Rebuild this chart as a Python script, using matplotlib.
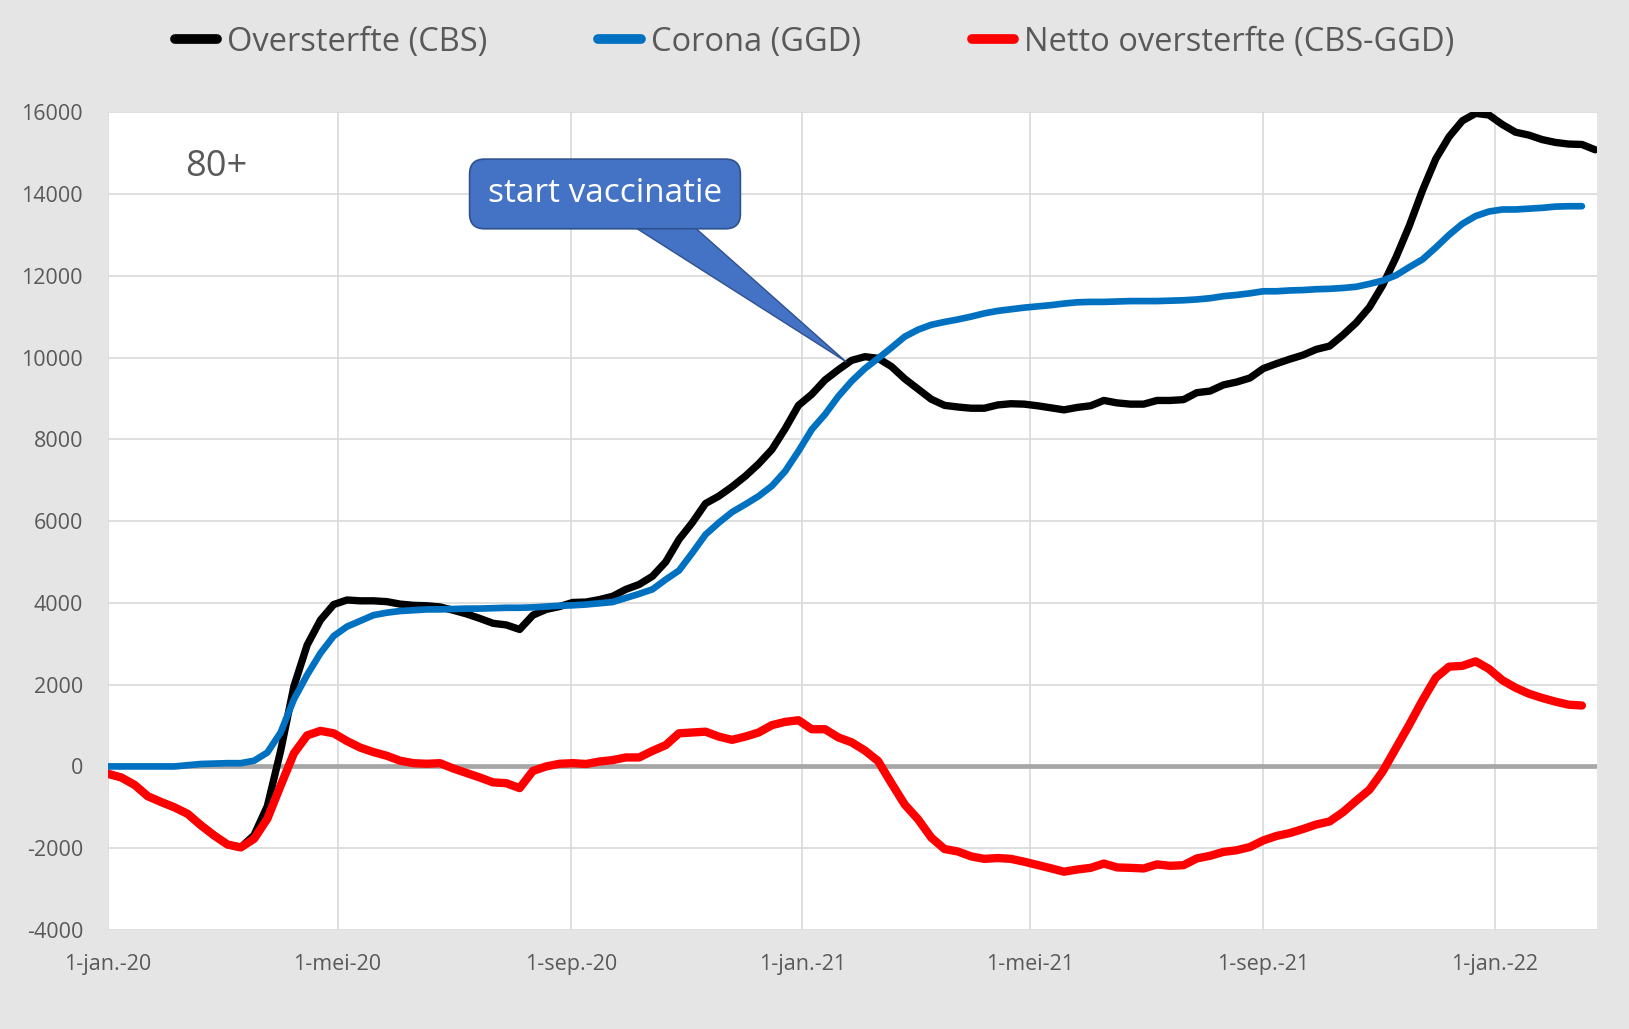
import numpy as np
import matplotlib
matplotlib.use('Agg')
import matplotlib.pyplot as plt

plt.rcParams['font.family'] = ['Open Sans', 'DejaVu Sans']

# weekly cumulative values, starting 1-jan-2020
oversterfte = [-180, -270, -450, -730, -870, -1000, -1160, -1440, -1690, -1910,
               -1980, -1680, -970, 380, 1960, 2970, 3580, 3960, 4070, 4050,
               4050, 4030, 3970, 3940, 3930, 3900, 3820, 3730, 3620, 3500,
               3460, 3350, 3700, 3840, 3910, 4010, 4020, 4080, 4160, 4330,
               4450, 4650, 5000, 5550, 5960, 6430, 6610, 6840, 7100, 7400,
               7750, 8260, 8830, 9100, 9450, 9700, 9930, 10020, 9980, 9780,
               9480, 9230, 8980, 8830, 8790, 8760, 8760, 8840, 8870, 8860,
               8820, 8770, 8720, 8780, 8820, 8950, 8890, 8860, 8860, 8950,
               8950, 8970, 9140, 9180, 9330, 9400, 9500, 9730, 9850, 9960,
               10060, 10200, 10280, 10550, 10850, 11230, 11770, 12450, 13220, 14090,
               14860, 15400, 15790, 15970, 15930, 15700, 15510, 15440, 15330, 15260,
               15220, 15210, 15080]

corona = [0, 0, 0, 0, 0, 0, 30, 60, 70, 80,
          80, 140, 340, 830, 1640, 2240, 2770, 3190, 3420, 3560,
          3700, 3760, 3800, 3820, 3840, 3840, 3850, 3860, 3860, 3870,
          3880, 3880, 3890, 3910, 3930, 3940, 3960, 3990, 4020, 4120,
          4220, 4330, 4570, 4790, 5220, 5670, 5960, 6220, 6410, 6610,
          6860, 7220, 7710, 8240, 8610, 9050, 9420, 9730, 9980, 10240,
          10510, 10680, 10800, 10870, 10930, 11000, 11080, 11140, 11180, 11220,
          11250, 11280, 11320, 11350, 11360, 11360, 11370, 11380, 11380, 11380,
          11390, 11400, 11420, 11450, 11500, 11530, 11570, 11620, 11620, 11640,
          11650, 11670, 11680, 11700, 11730, 11800, 11880, 12010, 12210, 12400,
          12690, 13000, 13270, 13460, 13570, 13620, 13620, 13640, 13660, 13690,
          13700, 13700]

netto = [-180, -270, -450, -730, -870, -1000, -1160, -1440, -1690, -1910,
         -1980, -1770, -1280, -470, 320, 760, 870, 810, 620, 460,
         350, 260, 140, 80, 65, 80, -50, -160, -270, -390,
         -410, -530, -110, 0, 65, 80, 60, 120, 155, 220,
         220, 380, 520, 810, 830, 850, 730, 650, 730, 830,
         1010, 1090, 1130, 910, 910, 710, 590, 390, 130, -410,
         -930, -1290, -1740, -2020, -2080, -2200, -2260, -2240, -2260, -2330,
         -2410, -2490, -2575, -2520, -2480, -2375, -2470, -2480, -2495, -2395,
         -2430, -2415, -2250, -2185, -2090, -2050, -1970, -1810, -1700, -1630,
         -1530, -1420, -1345, -1120, -840, -570, -120, 450, 1020, 1620,
         2170, 2440, 2460, 2570, 2385, 2110, 1925, 1780, 1675, 1585,
         1510, 1490]

labels = ['Oversterfte (CBS)', 'Corona (GGD)', 'Netto oversterfte (CBS-GGD)']
xtick_dates = ['2020-01-01', '2020-05-01', '2020-09-01', '2021-01-01',
               '2021-05-01', '2021-09-01', '2022-01-01']
xtick_labels = ['1-jan.-20', '1-mei-20', '1-sep.-20', '1-jan.-21',
                '1-mei-21', '1-sep.-21', '1-jan.-22']
yticks = [-4000, -2000, 0, 2000, 4000, 6000, 8000, 10000, 12000, 14000, 16000]

start = np.datetime64('2020-01-01')
def weeks(n):
    return start + np.arange(n) * np.timedelta64(7, 'D')

grijs = '#595959'
fig = plt.figure(figsize=(16.29, 10.29), dpi=100, facecolor='#e5e5e5')
ax = fig.add_axes([0.0663, 0.0962, 0.9141, 0.7948])
ax.set_facecolor('white')

ax.axhline(0, color='#a6a6a6', lw=3.4, zorder=2)
ax.plot(weeks(len(oversterfte)), oversterfte, color='black', lw=5.3,
        solid_capstyle='round', solid_joinstyle='round', label=labels[0], zorder=3)
ax.plot(weeks(len(corona)), corona, color='#0070C0', lw=4.8,
        solid_capstyle='round', solid_joinstyle='round', label=labels[1], zorder=4)
ax.plot(weeks(len(netto)), netto, color='#FF0000', lw=6.0,
        solid_capstyle='round', solid_joinstyle='round', label=labels[2], zorder=5)

ax.set_xlim(start, start + np.timedelta64(785, 'D'))
ax.set_ylim(-4000, 16000)
ax.set_xticks([np.datetime64(d) for d in xtick_dates])
ax.set_xticklabels(xtick_labels)
ax.set_yticks(yticks)
ax.set_yticklabels([str(v) for v in yticks])
ax.tick_params(axis='both', length=0, labelsize=15.5, colors=grijs)
ax.tick_params(axis='x', pad=17)
ax.tick_params(axis='y', pad=18)
ax.grid(True, color='#d9d9d9', lw=1.2, zorder=0)
ax.set_axisbelow(True)
for s in ax.spines.values():
    s.set_visible(False)

ax.text(0.052, 0.933, '80+', transform=ax.transAxes, fontsize=26,
        color=grijs, ha='left', va='center')

# callout: wedge starts under the box so only its sides cross the bottom edge
ax.annotate('start vaccinatie', xy=(np.datetime64('2021-01-24'), 9900),
            xytext=(np.datetime64('2020-09-19'), 14000),
            fontsize=24, color='white', ha='center', va='center', zorder=6,
            bbox=dict(boxstyle='round,pad=0.55,rounding_size=0.45',
                      fc='#4472C4', ec='#2F528F', lw=1.2),
            arrowprops=dict(arrowstyle='wedge,tail_width=1.0,shrink_factor=0.5',
                            mutation_scale=32, fc='#4472C4', ec='#2F528F',
                            lw=1.0, shrinkA=0, shrinkB=0, patchA=None,
                            relpos=(0.58, 0.5)))

leg = fig.legend(loc='center', bbox_to_anchor=(0.5, 0.959), ncol=3, frameon=False,
                 fontsize=23.5, handlelength=1.3, handletextpad=0.3, columnspacing=3.4)
for t in leg.get_texts():
    t.set_color(grijs)
for h in leg.get_lines():
    h.set_linewidth(7)
    h.set_solid_capstyle('round')

fig.savefig('out.png', dpi=100, facecolor=fig.get_facecolor())
